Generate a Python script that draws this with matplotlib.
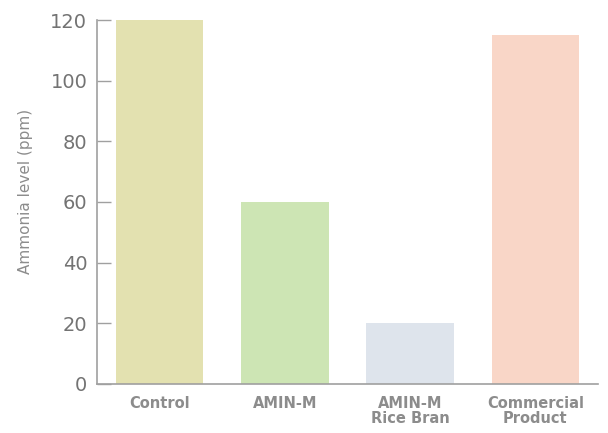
import matplotlib.pyplot as plt

# values
groups = ['Control', 'AMIN-M', 'AMIN-M\nRice Bran', 'Commercial\nProduct']
ammonia = [120, 60, 20, 115]
bar_colors = ['#e3e1b0', '#cde5b4', '#dee4ec', '#f9d6c7']
y_ticks = [0, 20, 40, 60, 80, 100, 120]

fig = plt.figure(figsize=(6.08, 4.33), dpi=100)
ax = fig.add_axes([0.1595, 0.1132, 0.824, 0.8406])

ax.bar(range(len(groups)), ammonia, width=0.70, color=bar_colors, edgecolor='none')

ax.set_xlim(-0.5, 3.5)
ax.set_ylim(0, 120)
ax.set_yticks(y_ticks)
ax.set_xticks(range(len(groups)))
ax.set_xticklabels(groups, fontsize=10.5, fontweight='bold', color='#8c8c8c',
                   linespacing=0.95)

ax.tick_params(axis='y', direction='in', length=10, width=1, color='#a0a0a0',
               labelsize=14, labelcolor='#737373', pad=7)
ax.tick_params(axis='x', length=0, pad=9)

for side in ['top', 'right']:
    ax.spines[side].set_visible(False)
for side in ['left', 'bottom']:
    ax.spines[side].set_color('#a0a0a0')
    ax.spines[side].set_linewidth(1.2)

ax.set_ylabel('Ammonia level (ppm)', fontsize=11, color='#8c8c8c')
ax.yaxis.set_label_coords(-0.128, 0.53)

fig.savefig('out.png', dpi=100)
